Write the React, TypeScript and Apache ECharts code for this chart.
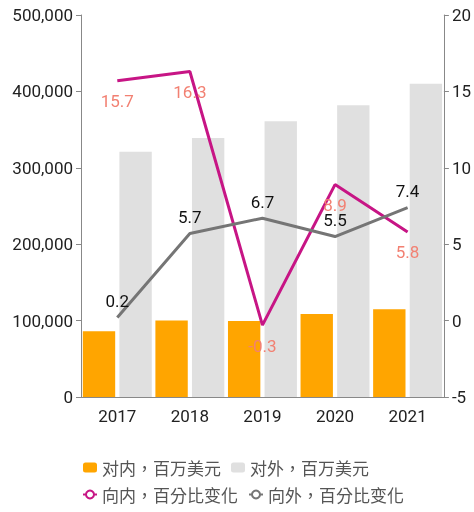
import React, { useEffect, useRef } from "react";
import * as echarts from "echarts";

const years = ["2017", "2018", "2019", "2020", "2021"];
const inwardUSD = [86000, 100000, 99500, 108500, 115000];
const outwardUSD = [321000, 339000, 361000, 382000, 410000];
const inwardPct = [15.7, 16.3, -0.3, 8.9, 5.8];
const outwardPct = [0.2, 5.7, 6.7, 5.5, 7.4];
const seriesNames = ["对内，百万美元", "对外，百万美元", "向内，百分比变化", "向外，百分比变化"];

export default function App() {
  const ref = useRef<HTMLDivElement>(null);
  useEffect(() => {
    if (!ref.current) return;
    document.documentElement.lang = "zh-TW";
    const chart = echarts.init(ref.current, null, { renderer: "svg" });
    const font = "Roboto, 'Noto Sans CJK TC', sans-serif";
    const cjk = "'Noto Sans CJK TC', sans-serif";
    chart.setOption({
      animation: false,
      textStyle: { fontFamily: font },
      grid: { left: 81, right: 26, top: 15, bottom: 115 },
      legend: {
        left: 77,
        top: 454,
        width: 355,
        itemWidth: 14,
        itemHeight: 10,
        itemGap: 10,
        textStyle: { fontSize: 17, color: "#555", fontFamily: cjk },
        data: seriesNames,
      },
      xAxis: {
        type: "category",
        data: years,
        axisLine: { lineStyle: { color: "#888" } },
        axisTick: { alignWithLabel: true, lineStyle: { color: "#888" } },
        axisLabel: { fontSize: 17, color: "#222", margin: 10 },
      },
      yAxis: [
        {
          type: "value",
          min: 0,
          max: 500000,
          interval: 100000,
          axisLine: { show: true, lineStyle: { color: "#888" } },
          axisTick: { show: true, lineStyle: { color: "#888" } },
          splitLine: { show: false },
          axisLabel: {
            fontSize: 17,
            color: "#222",
            formatter: (v: number) => v.toLocaleString("en-US"),
          },
        },
        {
          type: "value",
          min: -5,
          max: 20,
          interval: 5,
          position: "right",
          axisLine: { show: true, lineStyle: { color: "#888" } },
          axisTick: { show: true, lineStyle: { color: "#888" } },
          splitLine: { show: false },
          axisLabel: { fontSize: 17, color: "#222" },
        },
      ],
      series: [
        {
          name: seriesNames[0],
          type: "bar",
          data: inwardUSD,
          itemStyle: { color: "#FFA500" },
          barGap: "13%",
          barCategoryGap: "5%",
        },
        {
          name: seriesNames[1],
          type: "bar",
          data: outwardUSD,
          itemStyle: { color: "#E0E0E0" },
          barGap: "13%",
          barCategoryGap: "5%",
        },
        {
          name: seriesNames[2],
          type: "line",
          yAxisIndex: 1,
          data: inwardPct,
          showSymbol: true,
          symbol: "emptyCircle",
          symbolSize: 0,
          itemStyle: { color: "#C71585" },
          lineStyle: { color: "#C71585", width: 3 },
          label: {
            show: true,
            position: "bottom",
            distance: 12,
            fontSize: 17,
            color: "#F28072",
          },
          z: 3,
        },
        {
          name: seriesNames[3],
          type: "line",
          yAxisIndex: 1,
          data: outwardPct,
          showSymbol: true,
          symbol: "emptyCircle",
          symbolSize: 0,
          itemStyle: { color: "#757575" },
          lineStyle: { color: "#757575", width: 3 },
          label: {
            show: true,
            position: "top",
            distance: 8,
            fontSize: 17,
            color: "#111",
          },
          z: 4,
        },
      ],
    });
    return () => chart.dispose();
  }, []);
  return (
    <div
      ref={ref}
      style={{ position: "fixed", left: 0, top: 0, width: 474, height: 512 }}
    />
  );
}
